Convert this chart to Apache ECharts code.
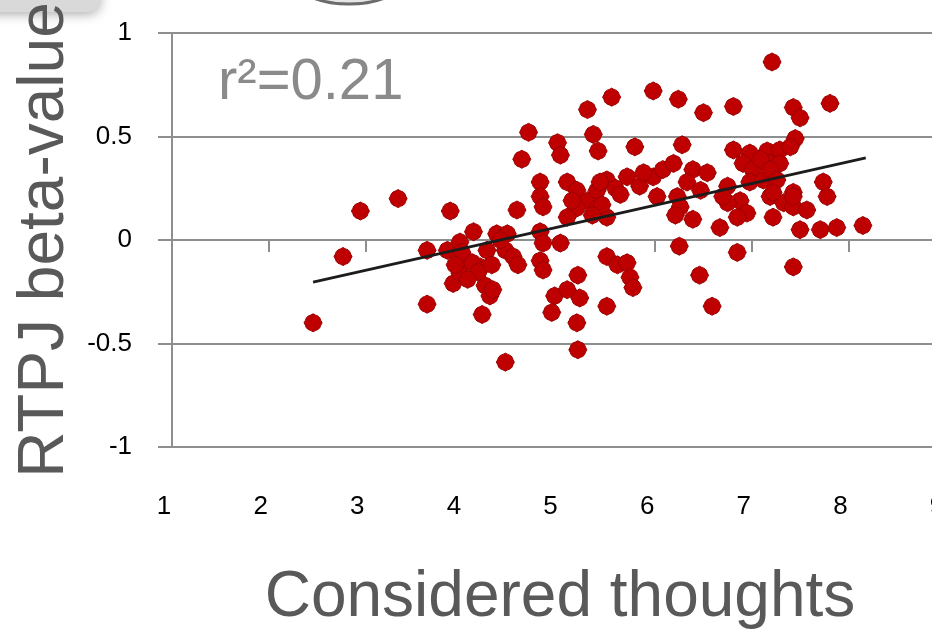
<!DOCTYPE html>
<html>
<head>
<meta charset="utf-8">
<script src="https://cdn.jsdelivr.net/npm/echarts@6/dist/echarts.min.js"></script>
<style>
html,body{margin:0;padding:0;background:#fff;}
#chart{width:932px;height:629px;}
</style>
</head>
<body>
<div id="chart"></div>
<script>
// Data
var thoughts = [
  2.46, 2.77, 2.95, 3.34, 3.64, 3.64, 3.88, 3.85, 3.98, 4.12,
  4.26, 4.36, 4.47, 4.45, 4.05, 4.19, 3.91, 4.24, 4.29, 4.21,
  4.53, 4.58, 3.98, 4.45, 4.57, 4.62, 4.69, 4.81, 4.81, 4.84,
  4.81, 4.84, 5.02, 4.81, 4.84, 5.20, 4.96, 5.09, 5.22, 4.93,
  5.19, 5.50, 5.20, 4.99, 5.02, 5.30, 5.36, 5.41, 5.55, 5.09,
  5.19, 5.30, 5.40, 5.50, 5.50, 5.40, 5.19, 5.09, 5.50, 5.61,
  5.71, 5.74, 5.77, 5.79, 5.98, 6.24, 6.28, 6.50, 5.71, 5.84,
  5.98, 6.08, 6.19, 6.39, 6.54, 6.33, 6.23, 6.26, 6.21, 6.39,
  6.47, 6.25, 6.46, 6.59, 6.81, 7.21, 7.43, 7.50, 7.81, 7.45,
  6.81, 6.98, 7.16, 7.29, 6.91, 7.01, 7.19, 7.29, 6.98, 7.12,
  6.75, 6.88, 6.75, 6.95, 6.85, 6.67, 7.19, 7.33, 7.22, 7.43,
  7.57, 7.43, 7.74, 7.78, 7.50, 7.71, 7.88, 8.15, 6.85, 7.43,
  7.40, 7.09, 7.19, 7.26, 6.70, 7.22, 7.43, 4.00, 4.11, 4.32,
  4.40, 4.17, 3.93, 4.06, 4.31, 5.14, 5.45, 5.35, 5.59, 5.64,
  5.88, 6.02, 5.43
];
var beta = [
  -0.40, -0.08, 0.14, 0.20, -0.31, -0.05, 0.14, -0.05, -0.01, 0.04,
  -0.05, 0.03, 0.03, -0.05, -0.10, -0.13, -0.21, -0.22, -0.27, -0.36,
  -0.08, -0.12, -0.16, -0.59, 0.145, 0.39, 0.52, 0.28, 0.21, 0.16,
  0.04, -0.015, -0.015, -0.10, -0.145, -0.17, -0.27, -0.24, -0.28, -0.35,
  -0.40, -0.32, -0.53, 0.47, 0.41, 0.63, 0.51, 0.43, 0.69, 0.28,
  0.24, 0.19, 0.155, 0.11, 0.29, 0.24, 0.155, 0.11, -0.08, -0.12,
  -0.11, -0.18, -0.23, 0.45, 0.72, 0.68, 0.46, 0.615, 0.305, 0.26,
  0.305, 0.34, 0.37, 0.34, 0.325, 0.28, 0.21, 0.16, 0.12, 0.10,
  0.24, -0.03, -0.17, -0.32, 0.645, 0.86, 0.64, 0.59, 0.66, 0.49,
  0.435, 0.42, 0.43, 0.435, 0.37, 0.34, 0.37, 0.37, 0.28, 0.29,
  0.26, 0.19, 0.18, 0.13, 0.11, 0.06, 0.21, 0.18, 0.11, 0.16,
  0.145, 0.23, 0.28, 0.21, 0.05, 0.05, 0.06, 0.07, -0.06, -0.13,
  0.45, 0.39, 0.34, 0.29, 0.21, 0.23, 0.21, -0.06, -0.11, -0.24,
  0.00, -0.155, -0.12, -0.19, -0.12, 0.19, 0.17, 0.12, 0.25, 0.22,
  0.325, 0.21, 0.28
];
var trendX = [2.46, 8.18];
var trendY = [-0.203, 0.397];
var xTicks = [1, 2, 3, 4, 5, 6, 7, 8, 9];
var yTicks = [-1, -0.5, 0, 0.5, 1];
var xTitle = 'Considered thoughts';
var yTitle = 'RTPJ beta-value';
var rLabel = 'r\u00B2=0.21';

var pts = thoughts.map(function (x, i) { return [x, beta[i]]; });
var trend = trendX.map(function (x, i) { return [x, trendY[i]]; });

var gridCol = '#8e8e8e';
var tickFont = '"Liberation Sans", Arial, sans-serif';
var marker = 'path://M0,-10 L2.6,-8.6 L5.6,-7.4 L7.4,-5.6 L8.6,-2.6 L10,0 L8.6,2.6 L7.4,5.6 L5.6,7.4 L2.6,8.6 L0,10 L-2.6,8.6 L-5.6,7.4 L-7.4,5.6 L-8.6,2.6 L-10,0 L-8.6,-2.6 L-7.4,-5.6 L-5.6,-7.4 L-2.6,-8.6 Z';

var chart = echarts.init(document.getElementById('chart'));
chart.setOption({
  animation: false,
  backgroundColor: '#ffffff',
  grid: { left: 172, top: 33, width: 773, height: 414, containLabel: false, outerBoundsMode: 'none' },
  xAxis: [{
    type: 'value', min: xTicks[0], max: xTicks[xTicks.length - 1], interval: 1,
    axisLine: { show: true, onZero: true, lineStyle: { color: gridCol, width: 2 } },
    axisTick: { show: true, length: 12, lineStyle: { color: gridCol, width: 2 } },
    axisLabel: { show: false },
    splitLine: { show: false }
  }, {
    type: 'value', min: xTicks[0], max: xTicks[xTicks.length - 1], interval: 1, position: 'bottom',
    axisLine: { show: false, onZero: false },
    axisTick: { show: false },
    axisLabel: { show: true, margin: 47, color: '#000', fontSize: 26, fontFamily: tickFont,
      padding: [0, 16, 0, 0], showMaxLabel: true, hideOverlap: false },
    splitLine: { show: false }
  }],
  yAxis: {
    type: 'value', min: yTicks[0], max: yTicks[yTicks.length - 1], interval: 0.5,
    axisLine: { show: true, onZero: false, lineStyle: { color: gridCol, width: 2 } },
    axisTick: { show: true, length: 14, lineStyle: { color: gridCol, width: 2 } },
    axisLabel: { margin: 40, color: '#000', fontSize: 26, fontFamily: tickFont, align: 'right' },
    splitLine: { show: true, lineStyle: { color: gridCol, width: 2 } }
  },
  series: [{
    type: 'scatter',
    data: pts,
    symbol: marker,
    symbolSize: 18,
    itemStyle: { color: '#bf0000', borderColor: '#9a0000', borderWidth: 1, opacity: 1 },
    z: 2
  }, {
    type: 'line',
    data: trend,
    symbol: 'none',
    lineStyle: { color: '#1c1c1c', width: 2.8 },
    z: 3
  }],
  graphic: [
    { type: 'rect', shape: { x: -30, y: -40, width: 130, height: 52, r: 12 },
      style: { fill: '#d9d9d9', shadowBlur: 12, shadowColor: 'rgba(0,0,0,0.35)', shadowOffsetY: 2 } },
    { type: 'ellipse', shape: { cx: 349, cy: -18, rx: 52, ry: 22 },
      style: { fill: '#e6e6e6', stroke: '#6b6b6b', lineWidth: 3 } },
    { type: 'text', x: 218, y: 112, style: { text: rLabel, fill: '#8a8a8a',
      font: '300 58px "Liberation Sans", Arial, sans-serif', textAlign: 'left', textVerticalAlign: 'bottom' } },
    { type: 'text', x: 45, y: 240, rotation: Math.PI / 2, style: { text: yTitle, fill: '#595959',
      font: '64px "Liberation Sans", Arial, sans-serif', textAlign: 'center', textVerticalAlign: 'middle' } },
    { type: 'text', x: 560, y: 598, style: { text: xTitle, fill: '#595959',
      font: '64px "Liberation Sans", Arial, sans-serif', textAlign: 'center', textVerticalAlign: 'middle' } }
  ]
});
</script>
</body>
</html>
